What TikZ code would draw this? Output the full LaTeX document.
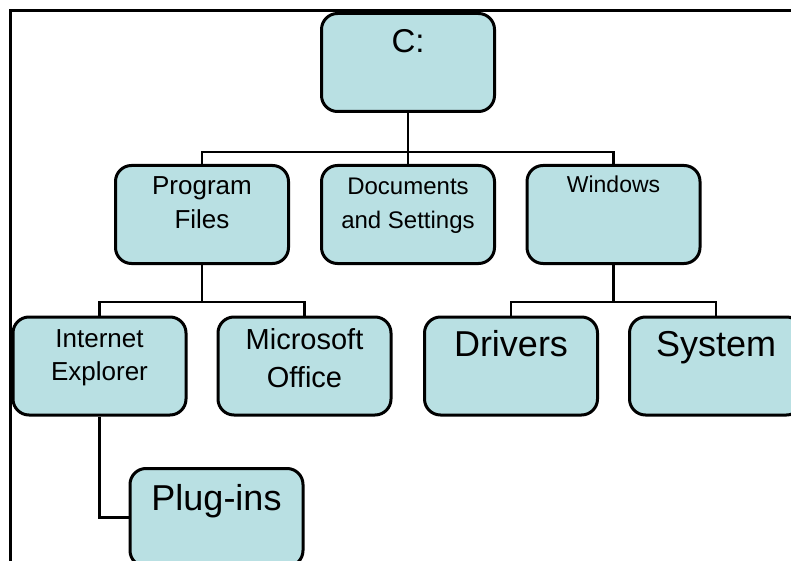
\documentclass[tikz,border=0pt]{standalone}
\usepackage{fontspec}
\setmainfont{Liberation Sans}
\definecolor{boxfill}{RGB}{185,224,227}
\newcommand\twoline[3]{\vtop{\baselineskip=#1\relax\halign{\hfil##\hfil\cr #2\cr #3\cr}}}
\begin{document}
\begin{tikzpicture}[x=1pt,y=-1pt,
  box/.style={draw=black,line width=3pt,fill=boxfill,rounded corners=16pt,
    minimum width=173pt,minimum height=98pt,inner sep=0pt},
  link/.style={draw=black,line width=2.5pt},
  txt/.style={anchor=base,inner sep=0pt}]
\useasboundingbox (0,0) rectangle (791,561);
\clip (0,0) rectangle (791,561);
\fill[white] (0,0) rectangle (791,561);
\draw[line width=2.5pt] (791,10.5) -- (10.5,10.5) -- (10.5,561);
% boxes
\node[box] (c)    at (408,62.5) {};
\node[box] (pf)   at (202,214.5) {};
\node[box] (docs) at (408,214.5) {};
\node[box] (win)  at (613.5,214.5) {};
\node[box] (ie)   at (99.5,366) {};
\node[box] (mo)   at (304.5,366) {};
\node[box] (drv)  at (511,366) {};
\node[box] (sys)  at (716,366) {};
\node[box] (plug) at (216.5,517.5) {};
% connectors
\coordinate (j1) at (c.south |- 0,152);
\draw[link] (c.south) -- (j1);
\draw[link] (pf.north) |- (j1) -| (win.north);
\draw[link] (docs.north) -- (docs.north |- j1);
\coordinate (j2) at (pf.south |- 0,302);
\draw[link] (pf.south) -- (j2);
\draw[link] (ie.north) |- (j2) -| (mo.north);
\coordinate (j3) at (win.south |- 0,302);
\draw[link] (win.south) -- (j3);
\draw[link] (drv.north) |- (j3) -| (sys.north);
\draw[link] (ie.south) |- (plug.west);
% texts
\node[txt,font=\fontsize{33}{40}\selectfont] (tc) at (c.north |- 0,53) {C:};
\node[txt,font=\fontsize{26}{33}\selectfont] (tpf) at (pf.north |- 0,195) {\twoline{33pt}{Program}{Files}};
\node[txt,font=\fontsize{24}{33}\selectfont] (tdocs) at (docs.north |- 0,195) {\twoline{33pt}{Documents}{and Settings}};
\node[txt,font=\fontsize{23}{30}\selectfont] (twin) at (win.north |- 0,193) {Windows};
\node[txt,font=\fontsize{26}{33}\selectfont] (tie) at (ie.north |- 0,347) {\twoline{33pt}{Internet}{Explorer}};
\node[txt,font=\fontsize{29}{38}\selectfont] (tmo) at (mo.north |- 0,349) {\twoline{38pt}{Microsoft}{Office}};
\node[txt,font=\fontsize{36}{44}\selectfont] (tdrv) at (drv.north |- 0,356) {Drivers};
\node[txt,font=\fontsize{36}{44}\selectfont] (tsys) at (sys.north |- 0,356) {System};
\node[txt,font=\fontsize{36}{44}\selectfont] (tplug) at (plug.north |- 0,510) {Plug-ins};
\end{tikzpicture}
\end{document}
